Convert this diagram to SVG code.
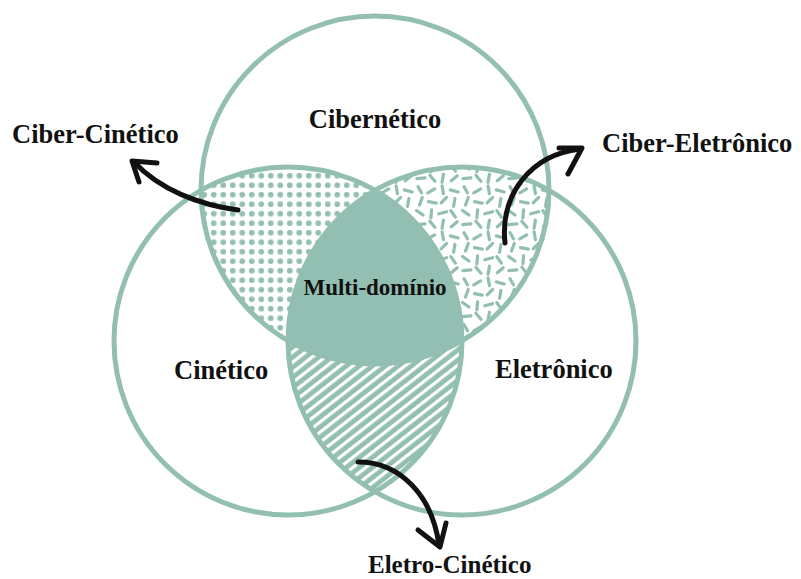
<svg xmlns="http://www.w3.org/2000/svg" width="801" height="579" viewBox="0 0 801 579">
<style>
.ring{fill:none;stroke:#93bfb3;stroke-width:5}
.lbl{font-family:"Liberation Serif","Times New Roman",serif;font-weight:bold;font-size:26.5px;fill:#111}
.arrow{fill:none;stroke:#111;stroke-width:5;stroke-linecap:round;stroke-linejoin:round}
.dash{stroke:#93bfb3;stroke-width:2.8;stroke-linecap:round}
</style>
<defs>
<clipPath id="cT"><circle cx="375" cy="190" r="174"/></clipPath>
<clipPath id="cL"><circle cx="288" cy="341" r="174"/></clipPath>
<clipPath id="cR"><circle cx="462" cy="341" r="174"/></clipPath>
<pattern id="dots" width="9.5" height="9.5" patternUnits="userSpaceOnUse">
<rect width="9.5" height="9.5" fill="#fff"/>
<circle cx="4.75" cy="4.75" r="2.9" fill="#93bfb3"/>
</pattern>
<pattern id="stripes" width="8" height="8" patternUnits="userSpaceOnUse" patternTransform="rotate(52)">
<rect width="8" height="8" fill="#93bfb3"/>
<rect width="3.2" height="8" fill="#fff"/>
</pattern>
<pattern id="dashes" width="40" height="40" patternUnits="userSpaceOnUse" patternTransform="scale(1.15)">
<rect width="40" height="40" fill="#fff"/>
<line class="dash" x1="3.5" y1="2.4" x2="6.5" y2="7.6"/>
<line class="dash" x1="12" y1="7.7" x2="18" y2="4.3"/>
<line class="dash" x1="24.4" y1="1.6" x2="25.6" y2="8.4"/>
<line class="dash" x1="31.6" y1="5.1" x2="38.4" y2="6.9"/>
<line class="dash" x1="4.8" y1="18.3" x2="7.2" y2="11.7"/>
<line class="dash" x1="12.6" y1="15.4" x2="19.4" y2="16.6"/>
<line class="dash" x1="23.6" y1="16.4" x2="28.4" y2="11.6"/>
<line class="dash" x1="35.6" y1="12.6" x2="34.4" y2="19.4"/>
<line class="dash" x1="2.2" y1="23" x2="7.8" y2="27"/>
<line class="dash" x1="15.3" y1="22.5" x2="14.7" y2="29.5"/>
<line class="dash" x1="21.6" y1="25.9" x2="28.4" y2="24.1"/>
<line class="dash" x1="32" y1="23.2" x2="36" y2="28.8"/>
<line class="dash" x1="2.5" y1="35.3" x2="9.5" y2="34.7"/>
<line class="dash" x1="13.8" y1="32.4" x2="18.2" y2="37.6"/>
<line class="dash" x1="24.4" y1="38.5" x2="25.6" y2="31.5"/>
<line class="dash" x1="37.6" y1="32.8" x2="32.4" y2="37.2"/>
</pattern>
</defs>
<rect width="801" height="579" fill="#fff"/>

<g id="ciber-cinetico-area" clip-path="url(#cT)">
<circle cx="288" cy="341" r="174" fill="url(#dots)"/>
</g>
<g id="ciber-eletronico-area" clip-path="url(#cT)">
<circle cx="462" cy="341" r="174" fill="url(#dashes)"/>
</g>
<g id="eletro-cinetico-area" clip-path="url(#cL)">
<circle cx="462" cy="341" r="174" fill="url(#stripes)"/>
</g>
<g id="multi-dominio" clip-path="url(#cT)">
<g clip-path="url(#cL)">
<circle cx="462" cy="341" r="174" fill="#93bfb3"/>
</g>
</g>

<g id="cibernetico"><circle class="ring" cx="375" cy="190" r="174"/></g>
<g id="cinetico"><circle class="ring" cx="288" cy="341" r="174"/></g>
<g id="eletronico"><circle class="ring" cx="462" cy="341" r="174"/></g>

<g id="connectors">
<path class="arrow" d="M238,210 C200,205 160,190 134,162"/>
<path class="arrow" d="M157,163 L132,161 L139,182"/>
<path class="arrow" d="M505,243 C500,195 530,155 580,149"/>
<path class="arrow" d="M559,148 L582,148 L568,174"/>
<path class="arrow" d="M358,462 C400,462 432,495 439,545"/>
<path class="arrow" d="M418,530 L440,547 L446,523"/>
</g>

<g id="labels">
<text class="lbl" x="375" y="128" text-anchor="middle">Cibernético</text>
<text class="lbl" x="12" y="143">Ciber-Cinético</text>
<text class="lbl" x="602" y="152">Ciber-Eletrônico</text>
<text class="lbl" x="174" y="379">Cinético</text>
<text class="lbl" x="495" y="378">Eletrônico</text>
<text class="lbl" x="375" y="295" text-anchor="middle" style="font-size:23px">Multi-domínio</text>
<text class="lbl" x="368" y="573" style="font-size:25px">Eletro-Cinético</text>
</g>
</svg>
